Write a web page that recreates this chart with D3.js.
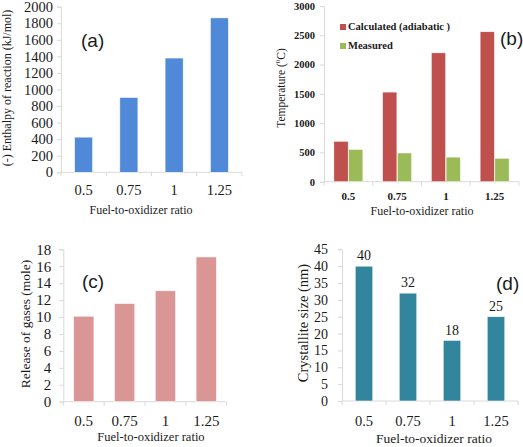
<!DOCTYPE html>
<html>
<head>
<meta charset="utf-8">
<script src="https://cdn.jsdelivr.net/npm/d3@7"></script>
<style>
  html, body { margin: 0; padding: 0; background: #fff; }
  svg { display: block; }
  text { fill: #1a1a1a; }
  .serif { font-family: "Liberation Serif", "Times New Roman", serif; }
  .sans { font-family: "Liberation Sans", Arial, sans-serif; }
</style>
</head>
<body>
<svg id="chart" width="523" height="447"></svg>
<script>
// ---------- data ----------
const categories = ["0.5", "0.75", "1", "1.25"];
const enthalpy = [425, 905, 1380, 1865];            // (a) kJ/mol
const tempCalculated = [690, 1530, 2200, 2560];     // (b) adiabatic
const tempMeasured = [550, 490, 420, 400];          // (b) measured
const gasRelease = [10.1, 11.6, 13.1, 17.1];        // (c) mole
const crystalliteSize = [40, 32, 18, 25];           // (d) nm
const yTicksA = [0, 200, 400, 600, 800, 1000, 1200, 1400, 1600, 1800, 2000];
const yTicksB = [0, 500, 1000, 1500, 2000, 2500, 3000];
const yTicksC = [0, 2, 4, 6, 8, 10, 12, 14, 16, 18];
const yTicksD = [0, 5, 10, 15, 20, 25, 30, 35, 40, 45];
const seriesB = ["Calculated (adiabatic )", "Measured"];

const svg = d3.select("#chart");
const AXIS = "#d9d9d9";

function panel(o) {
  const g = svg.append("g");
  const x = d3.scaleBand().domain(categories).range(o.xr).padding(0);
  const y = d3.scaleLinear().domain(o.yd).range(o.yr);

  // y axis
  const ya = d3.axisLeft(y).tickValues(o.yTicks).tickFormat(d3.format("d")).tickSize(4).tickPadding(o.yPad);
  const yg = g.append("g").attr("transform", `translate(${o.xr[0]},0)`).call(ya)
    .attr("font-family", null).attr("font-size", null);
  yg.select(".domain").attr("stroke", AXIS);
  yg.selectAll(".tick line").attr("stroke", AXIS);
  yg.selectAll(".tick text").attr("class", "serif").style("font-size", o.yFont + "px")
    .style("font-weight", o.bold ? "bold" : "normal").attr("fill", "#1a1a1a");

  // x axis line with ticks at band boundaries
  const xg = g.append("g");
  xg.append("line").attr("x1", o.xr[0]).attr("x2", o.xr[1])
    .attr("y1", y(0)).attr("y2", y(0)).attr("stroke", AXIS);
  const bounds = categories.map(c => x(c)).concat([x(categories[categories.length - 1]) + x.step()]);
  xg.selectAll("line.bt").data(bounds).join("line").attr("class", "bt")
    .attr("x1", d => d).attr("x2", d => d).attr("y1", y(0)).attr("y2", y(0) + 4).attr("stroke", AXIS);
  xg.selectAll("text").data(categories).join("text").attr("class", "serif")
    .attr("x", d => x(d) + x.step() / 2).attr("y", o.xTickY)
    .attr("text-anchor", "middle").attr("dominant-baseline", "middle")
    .style("font-size", o.xFont + "px")
    .style("font-weight", o.bold ? "bold" : "normal")
    .text(d => d);

  // axis titles
  g.append("text").attr("class", "serif").attr("x", o.xLabel[0]).attr("y", o.xLabel[1])
    .attr("text-anchor", "middle").attr("dominant-baseline", "middle")
    .style("font-size", o.xLabelFont + "px").text("Fuel-to-oxidizer ratio");
  g.append("text").attr("class", "serif").attr("transform", `translate(${o.yLabel[0]},${o.yLabel[1]}) rotate(-90)`)
    .attr("text-anchor", "middle").attr("dominant-baseline", "middle")
    .style("font-size", o.yLabelFont + "px").html(o.yTitle);

  // panel letter
  g.append("text").attr("class", "sans").attr("x", o.tag[0]).attr("y", o.tag[1])
    .attr("dominant-baseline", "middle")
    .style("font-size", "19px").text(o.tagText);

  return { g, x, y };
}

// ----- (a) -----
{
  const p = panel({
    xr: [61, 242], yr: [172.3, 6.7], yd: [0, 2000], yTicks: yTicksA,
    yPad: 4, yFont: 14.5, xFont: 14.5, xTickY: 192,
    xLabel: [141, 211], xLabelFont: 12,
    yLabel: [8, 88], yLabelFont: 12, yTitle: "(-) Enthalpy of reaction (kJ/mol)",
    tag: [81, 42], tagText: "(a)"
  });
  const bw = p.x.step() * 0.4;
  p.g.selectAll("rect.bar").data(enthalpy).join("rect").attr("class", "bar")
    .attr("x", (d, i) => p.x(categories[i]) + (p.x.step() - bw) / 2)
    .attr("width", bw)
    .attr("y", d => p.y(d)).attr("height", d => p.y(0) - p.y(d))
    .attr("fill", "#5089d7").attr("stroke", "#fff").attr("stroke-width", 0.6);
}

// ----- (b) -----
{
  const p = panel({
    xr: [324, 519], yr: [181.7, 6], yd: [0, 3000], yTicks: yTicksB, bold: true,
    yPad: 5, yFont: 10.5, xFont: 11, xTickY: 197,
    xLabel: [422, 212], xLabelFont: 12,
    yLabel: [282, 88], yLabelFont: 11.5, yTitle: "Temperature (<tspan baseline-shift='super' font-size='7'>0</tspan>C)",
    tag: [500, 40], tagText: "(b)"
  });
  const sub = d3.scaleBand().domain(seriesB).range([0, 29]).paddingInner(0.03);
  const colors = ["#c0504d", "#9bbb59"];
  const vals = [tempCalculated, tempMeasured];
  seriesB.forEach((s, si) => {
    p.g.selectAll("rect.s" + si).data(vals[si]).join("rect").attr("class", "s" + si)
      .attr("x", (d, i) => p.x(categories[i]) + p.x.step() / 2 - 14.5 + sub(s))
      .attr("width", sub.bandwidth())
      .attr("y", d => p.y(d)).attr("height", d => p.y(0) - p.y(d))
      .attr("fill", colors[si]).attr("stroke", "#fff").attr("stroke-width", 0.5);
  });
  // legend
  const lg = p.g.append("g");
  seriesB.forEach((s, si) => {
    lg.append("rect").attr("x", 340).attr("y", 24 + si * 19).attr("width", 6).attr("height", 6)
      .attr("fill", colors[si]);
    lg.append("text").attr("class", "serif").attr("x", 348).attr("y", 27.5 + si * 19).attr("dominant-baseline", "middle")
      .style("font-size", "10.5px").style("font-weight", "bold")
      .attr("fill", "#333").text(s);
  });
}

// ----- (c) -----
{
  const p = panel({
    xr: [63.3, 226.7], yr: [401.7, 249.3], yd: [0, 18], yTicks: yTicksC,
    yPad: 8, yFont: 15, xFont: 15, xTickY: 423,
    xLabel: [151, 438], xLabelFont: 12.5,
    yLabel: [27, 324], yLabelFont: 13.5, yTitle: "Release of gases (mole)",
    tag: [82, 283], tagText: "(c)"
  });
  const bw = p.x.step() * 0.5;
  p.g.selectAll("rect.bar").data(gasRelease).join("rect").attr("class", "bar")
    .attr("x", (d, i) => p.x(categories[i]) + (p.x.step() - bw) / 2)
    .attr("width", bw)
    .attr("y", d => p.y(d)).attr("height", d => p.y(0) - p.y(d))
    .attr("fill", "#d99694").attr("stroke", "#fff").attr("stroke-width", 0.6);
}

// ----- (d) -----
{
  const p = panel({
    xr: [342, 518], yr: [401, 249.3], yd: [0, 45], yTicks: yTicksD,
    yPad: 10, yFont: 14, xFont: 14.5, xTickY: 423,
    xLabel: [434, 440], xLabelFont: 13.5,
    yLabel: [305, 323], yLabelFont: 14.5, yTitle: "Crystallite size (nm)",
    tag: [496, 285], tagText: "(d)"
  });
  const bw = p.x.step() * 0.4;
  p.g.selectAll("rect.bar").data(crystalliteSize).join("rect").attr("class", "bar")
    .attr("x", (d, i) => p.x(categories[i]) + (p.x.step() - bw) / 2)
    .attr("width", bw)
    .attr("y", d => p.y(d)).attr("height", d => p.y(0) - p.y(d))
    .attr("fill", "#31859c").attr("stroke", "#fff").attr("stroke-width", 0.6);
  p.g.selectAll("text.val").data(crystalliteSize).join("text").attr("class", "val serif")
    .attr("x", (d, i) => p.x(categories[i]) + p.x.step() / 2)
    .attr("y", d => p.y(d) - 9)
    .attr("text-anchor", "middle").attr("dominant-baseline", "middle")
    .style("font-size", "14px").text(d => d);
}
</script>
</body>
</html>
